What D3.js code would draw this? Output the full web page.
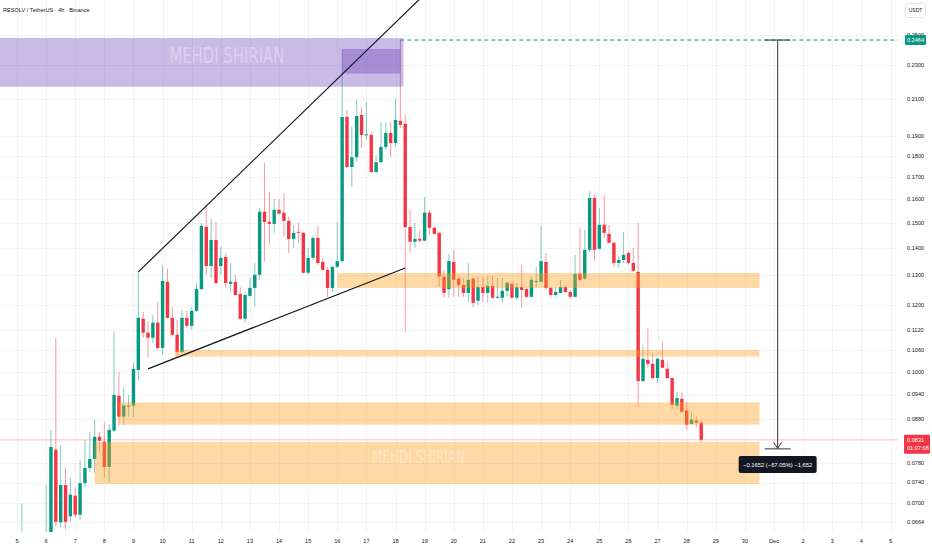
<!DOCTYPE html>
<html>
<head>
<meta charset="utf-8">
<script src="https://cdn.jsdelivr.net/npm/d3@7.9.0/dist/d3.min.js"></script>
<style>
  html, body { margin: 0; padding: 0; background: #fff; }
  svg { display: block; font-family: "Liberation Sans", Arial, sans-serif; }
</style>
</head>
<body>
<svg id="chart" width="932" height="550"></svg>
<script>
// -------------------------
// Data: RESOLV/USDT 4h candles
// first bar Nov 5 04:00 UTC, nulls = bars not shown
// -------------------------
const firstBar = Date.UTC(2025, 10, 5, 4);
const barHours = 4;

const opens = [
  0.0612, null, null, null, null,
  0.0600, 0.0612, 0.0809, 0.0664, 0.0735, 0.0675, 0.0714, 0.0678, 0.0739, 0.0770,
  0.0789, 0.0838, 0.0827, 0.0772, 0.0852, 0.0937, 0.0885, 0.0910, 0.0912, 0.1005,
  0.1155, 0.1112, 0.1097, 0.1143, 0.1067, 0.1277, 0.1158, 0.1106, 0.1055, 0.1158,
  0.1133, 0.1180, 0.1252, 0.1483, 0.1333, 0.1431, 0.1333, 0.1366, 0.1270, 0.1277,
  0.1236, 0.1155, 0.1229, 0.1256, 0.1302, 0.1545, 0.1503, 0.1495, 0.1553, 0.1541,
  0.1507, 0.1435, 0.1463, 0.1459, 0.1309, 0.1363, 0.1439, 0.1348, 0.1319, 0.1256,
  0.1330, 0.1351, 0.1999, 0.1745, 0.1792, 0.2010, 0.1904, 0.1904, 0.1721, 0.1768,
  0.1843, 0.1914, 0.1862, 0.1978, 0.1962, 0.1482, 0.1424, 0.1435, 0.1428, 0.1541,
  0.1479, 0.1459, 0.1295, 0.1252, 0.1348, 0.1288, 0.1266, 0.1239, 0.1288, 0.1213,
  0.1259, 0.1239, 0.1263, 0.1223, 0.1223, 0.1246, 0.1270, 0.1223, 0.1259, 0.1252,
  0.1226, 0.1277, 0.1277, 0.1348, 0.1256, 0.1232, 0.1239, 0.1259, 0.1242, 0.1226,
  0.1305, 0.1288, 0.1393, 0.1604, 0.1397, 0.1491, 0.1455, 0.1420, 0.1344, 0.1355,
  0.1381, 0.1344, 0.1312, 0.0975, 0.1033, 0.1022, 0.0983, 0.1033, 0.1008, 0.0983,
  0.0912, 0.0929, 0.0900, 0.0868, 0.0876, 0.0871
];
const highs = [
  0.0699, null, null, null, null,
  0.0735, 0.0854, 0.1097, 0.0820, 0.0770, 0.0749, 0.0730, 0.0787, 0.0831, 0.0849,
  0.0878, 0.0849, 0.0871, 0.0866, 0.1115, 0.0999, 0.0957, 0.0939, 0.1024, 0.1312,
  0.1177, 0.1146, 0.1168, 0.1209, 0.1336, 0.1323, 0.1193, 0.1152, 0.1183, 0.1180,
  0.1193, 0.1274, 0.1499, 0.1565, 0.1519, 0.1503, 0.1404, 0.1378, 0.1344, 0.1302,
  0.1259, 0.1242, 0.1291, 0.1344, 0.1562, 0.1764, 0.1630, 0.1599, 0.1599, 0.1626,
  0.1523, 0.1491, 0.1499, 0.1463, 0.1401, 0.1443, 0.1487, 0.1363, 0.1330, 0.1333,
  0.1503, 0.2398, 0.2037, 0.1946, 0.2094, 0.2054, 0.2082, 0.1920, 0.1802, 0.1972,
  0.1967, 0.1972, 0.2100, 0.2464, 0.2010, 0.1553, 0.1499, 0.1471, 0.1608, 0.1553,
  0.1483, 0.1463, 0.1319, 0.1378, 0.1393, 0.1295, 0.1291, 0.1344, 0.1291, 0.1295,
  0.1295, 0.1298, 0.1298, 0.1291, 0.1291, 0.1277, 0.1277, 0.1273, 0.1337, 0.1259,
  0.1295, 0.1330, 0.1487, 0.1381, 0.1259, 0.1259, 0.1284, 0.1266, 0.1249, 0.1374,
  0.1479, 0.1471, 0.1634, 0.1619, 0.1562, 0.1617, 0.1491, 0.1424, 0.1370, 0.1463,
  0.1385, 0.1401, 0.1499, 0.1076, 0.1127, 0.1053, 0.1039, 0.1085, 0.1027, 0.0986,
  0.0947, 0.0947, 0.0921, 0.0897, 0.0885, 0.0878
];
const lows = [
  0.0605, null, null, null, null,
  0.0590, 0.0605, 0.0656, 0.0655, 0.0651, 0.0665, 0.0673, 0.0669, 0.0730, 0.0762,
  0.0760, 0.0805, 0.0751, 0.0739, 0.0849, 0.0864, 0.0864, 0.0885, 0.0885, 0.0978,
  0.1097, 0.1039, 0.1082, 0.1061, 0.1047, 0.1155, 0.1100, 0.1044, 0.1052, 0.1127,
  0.1121, 0.1177, 0.1249, 0.1302, 0.1291, 0.1270, 0.1302, 0.1256, 0.1242, 0.1230,
  0.1152, 0.1143, 0.1226, 0.1193, 0.1284, 0.1351, 0.1413, 0.1459, 0.1533, 0.1447,
  0.1381, 0.1401, 0.1420, 0.1305, 0.1302, 0.1355, 0.1337, 0.1316, 0.1226, 0.1242,
  0.1326, 0.1344, 0.1740, 0.1653, 0.1768, 0.1838, 0.1878, 0.1717, 0.1717, 0.1764,
  0.1828, 0.1792, 0.1843, 0.1941, 0.1115, 0.1381, 0.1401, 0.1420, 0.1426, 0.1451,
  0.1451, 0.1259, 0.1223, 0.1223, 0.1226, 0.1226, 0.1226, 0.1209, 0.1193, 0.1199,
  0.1209, 0.1206, 0.1220, 0.1220, 0.1206, 0.1226, 0.1220, 0.1216, 0.1190, 0.1223,
  0.1223, 0.1259, 0.1274, 0.1249, 0.1226, 0.1226, 0.1237, 0.1239, 0.1220, 0.1223,
  0.1280, 0.1284, 0.1385, 0.1351, 0.1395, 0.1439, 0.1418, 0.1330, 0.1326, 0.1344,
  0.1341, 0.1312, 0.0909, 0.0973, 0.1013, 0.0981, 0.0970, 0.1010, 0.0981, 0.0902,
  0.0902, 0.0895, 0.0854, 0.0866, 0.0861, 0.0826
];
const closes = [
  0.0616, null, null, null, null,
  0.0612, 0.0815, 0.0665, 0.0735, 0.0665, 0.0716, 0.0678, 0.0739, 0.0770, 0.0789,
  0.0838, 0.0829, 0.0772, 0.0854, 0.0939, 0.0885, 0.0912, 0.0912, 0.1008, 0.1158,
  0.1112, 0.1097, 0.1143, 0.1067, 0.1280, 0.1158, 0.1106, 0.1055, 0.1158, 0.1133,
  0.1180, 0.1252, 0.1487, 0.1333, 0.1431, 0.1273, 0.1363, 0.1273, 0.1277, 0.1232,
  0.1155, 0.1232, 0.1256, 0.1302, 0.1545, 0.1503, 0.1495, 0.1553, 0.1537, 0.1507,
  0.1435, 0.1459, 0.1459, 0.1309, 0.1363, 0.1439, 0.1344, 0.1319, 0.1256, 0.1330,
  0.1351, 0.1999, 0.1745, 0.1792, 0.2004, 0.1904, 0.1907, 0.1721, 0.1768, 0.1843,
  0.1914, 0.1862, 0.1983, 0.1957, 0.1482, 0.1424, 0.1435, 0.1428, 0.1541, 0.1479,
  0.1455, 0.1295, 0.1239, 0.1351, 0.1284, 0.1266, 0.1239, 0.1284, 0.1206, 0.1259,
  0.1239, 0.1263, 0.1223, 0.1226, 0.1246, 0.1274, 0.1223, 0.1259, 0.1249, 0.1226,
  0.1284, 0.1280, 0.1351, 0.1256, 0.1232, 0.1242, 0.1259, 0.1242, 0.1226, 0.1305,
  0.1284, 0.1393, 0.1604, 0.1393, 0.1491, 0.1459, 0.1420, 0.1344, 0.1355, 0.1374,
  0.1344, 0.1316, 0.0975, 0.1036, 0.1022, 0.0983, 0.1036, 0.1011, 0.0983, 0.0914,
  0.0931, 0.0897, 0.0866, 0.0878, 0.0871, 0.0831
];

// Axis ticks
const priceTicks = [0.25, 0.23, 0.21, 0.19, 0.18, 0.17, 0.16, 0.15, 0.14, 0.13,
  0.12, 0.112, 0.106, 0.1, 0.094, 0.088, 0.078, 0.074, 0.07, 0.0664];
const dayTicks = d3.utcDay.range(Date.UTC(2025, 10, 5), Date.UTC(2025, 11, 6));

// Drawings: [start, end, low, high]
const orangeZones = [
  [Date.UTC(2025, 10, 16, 0), Date.UTC(2025, 10, 30, 12), 0.1256, 0.1308],
  [Date.UTC(2025, 10, 10, 10), Date.UTC(2025, 10, 30, 12), 0.1042, 0.1061],
  [Date.UTC(2025, 10, 8, 12), Date.UTC(2025, 10, 30, 12), 0.0866, 0.0920],
  [Date.UTC(2025, 10, 7, 16), Date.UTC(2025, 10, 30, 12), 0.0737, 0.0826]
];
const purpleZone = [Date.UTC(2025, 9, 30), Date.UTC(2025, 10, 18, 6, 30), 0.2170, 0.2478];
const purpleInner = [Date.UTC(2025, 10, 16, 4), Date.UTC(2025, 10, 18, 4), 0.2250, 0.2405];

// Trend lines: [[time, price], [time, price]]
const upperTrend = [[Date.UTC(2025, 10, 9, 4), 0.1312], [Date.UTC(2025, 10, 18, 20), 0.2755]];
const lowerTrend = [[Date.UTC(2025, 10, 9, 12), 0.1008], [Date.UTC(2025, 10, 18, 8), 0.1326]];

// Watermarks: [text, time, price, width]
const watermarks = [
  ['MEHDI SHIRIAN', Date.UTC(2025, 10, 12, 5), 0.2318, 115],
  ['MEHDI SHIRIAN', Date.UTC(2025, 10, 18, 19), 0.0780, 93]
];

const athPrice = 0.2464;
const lastPrice = 0.0831;
const lastCountdown = '01:07:08';
const measureTime = Date.UTC(2025, 11, 1, 3);
const measureDrop = 0.1652;
const measureLabel = '\u22120.1652 (\u221267.05%) \u22121,652';
const title = 'RESOLV / TetherUS \u00b7 4h \u00b7 Binance';

// -------------------------
// Scales
// -------------------------
const plotRight = 898, plotBottom = 532;
const upColor = '#089981', downColor = '#f23645';

const x = d3.scaleUtc()
  .domain([Date.UTC(2025, 10, 5), Date.UTC(2025, 11, 5)])
  .range([17, 890.5]);
const y = d3.scaleLog()
  .domain([0.0616, 0.25])
  .range([550, 34.7]);

const candles = opens.map((o, i) => o == null ? null : {
  t: new Date(firstBar + i * barHours * 3600e3),
  o, h: highs[i], l: lows[i], c: closes[i]
}).filter(Boolean);

const svg = d3.select('#chart');

svg.append('defs').append('clipPath').attr('id', 'plot')
  .append('rect').attr('x', 0).attr('y', 0).attr('width', plotRight).attr('height', plotBottom);

// grid
const grid = svg.append('g').attr('stroke', '#f2f3f6').attr('stroke-width', 1);
grid.selectAll('.vg').data(dayTicks).join('line')
  .attr('x1', d => Math.round(x(d)) + 0.5).attr('x2', d => Math.round(x(d)) + 0.5)
  .attr('y1', 0).attr('y2', plotBottom);
grid.selectAll('.hg').data(priceTicks).join('line')
  .attr('x1', 0).attr('x2', plotRight)
  .attr('y1', d => Math.round(y(d)) + 0.5).attr('y2', d => Math.round(y(d)) + 0.5);

const plot = svg.append('g').attr('clip-path', 'url(#plot)');

// current price line
plot.append('line')
  .attr('x1', 0).attr('x2', plotRight)
  .attr('y1', y(lastPrice)).attr('y2', y(lastPrice))
  .attr('stroke', downColor).attr('stroke-opacity', 0.3);

// candles
const candleG = plot.append('g');
candleG.selectAll('line').data(candles).join('line')
  .attr('x1', d => x(d.t)).attr('x2', d => x(d.t))
  .attr('y1', d => y(d.h)).attr('y2', d => y(d.l))
  .attr('stroke', d => d.c >= d.o ? upColor : downColor)
  .attr('stroke-opacity', 0.5)
  .attr('stroke-width', 1);
candleG.selectAll('rect').data(candles).join('rect')
  .attr('x', d => x(d.t) - 1.7)
  .attr('width', 3.4)
  .attr('y', d => y(Math.max(d.o, d.c)))
  .attr('height', d => Math.max(1, Math.abs(y(d.o) - y(d.c))))
  .attr('fill', d => d.c >= d.o ? upColor : downColor);

// zones
plot.selectAll('.oz').data(orangeZones).join('rect')
  .attr('x', d => x(d[0])).attr('width', d => x(d[1]) - x(d[0]))
  .attr('y', d => y(d[3])).attr('height', d => y(d[2]) - y(d[3]))
  .attr('fill', 'rgb(255,160,30)').attr('fill-opacity', 0.4);

plot.selectAll('.pz').data([purpleZone, purpleInner]).join('rect')
  .attr('x', d => x(d[0])).attr('width', d => x(d[1]) - x(d[0]))
  .attr('y', d => y(d[3])).attr('height', d => y(d[2]) - y(d[3]))
  .attr('fill', '#673ab7').attr('fill-opacity', 0.35);

// watermarks
plot.selectAll('.wm').data(watermarks).join('text')
  .attr('x', d => x(d[1])).attr('y', d => y(d[2]))
  .attr('text-anchor', 'middle')
  .attr('textLength', d => d[3]).attr('lengthAdjust', 'spacingAndGlyphs')
  .attr('font-family', '"Liberation Sans Narrow", "DejaVu Sans Condensed", sans-serif')
  .attr('font-size', (d, i) => i === 0 ? 22 : 18)
  .attr('fill', '#fff').attr('fill-opacity', 0.35)
  .text(d => d[0]);

// trend lines
const trendLine = d3.line().x(d => x(d[0])).y(d => y(d[1]));
plot.selectAll('.tl').data([upperTrend, lowerTrend]).join('path')
  .attr('d', trendLine)
  .attr('fill', 'none').attr('stroke', '#131722').attr('stroke-width', 1.2);

// ATH dashed line
plot.append('line')
  .attr('x1', x(candles.find(c => c.h === athPrice).t)).attr('x2', plotRight)
  .attr('y1', y(athPrice)).attr('y2', y(athPrice))
  .attr('stroke', upColor).attr('stroke-width', 1).attr('stroke-dasharray', '4,3');

// price range measure
const mx = x(measureTime), my0 = y(athPrice), my1 = y(athPrice - measureDrop);
const measure = svg.append('g').attr('stroke', '#333').attr('stroke-width', 1).attr('fill', 'none');
measure.append('line').attr('x1', mx).attr('x2', mx).attr('y1', my0).attr('y2', my1);
measure.append('line').attr('x1', mx - 13).attr('x2', mx + 13).attr('y1', my0).attr('y2', my0);
measure.append('line').attr('x1', mx - 13).attr('x2', mx + 13).attr('y1', my1 + 0.5).attr('y2', my1 + 0.5);
measure.append('path').attr('d', `M${mx - 4},${my1 - 6}L${mx},${my1}L${mx + 4},${my1 - 6}`);
svg.append('rect')
  .attr('x', mx - 39).attr('y', my1 + 7.5).attr('width', 78).attr('height', 17)
  .attr('rx', 2).attr('fill', '#131722');
svg.append('text')
  .attr('x', mx).attr('y', my1 + 18.3).attr('text-anchor', 'middle')
  .attr('font-size', 5.8).attr('fill', '#fff')
  .text(measureLabel);

// -------------------------
// Axes
// -------------------------
svg.append('g').selectAll('text').data(priceTicks).join('text')
  .attr('x', 907).attr('y', d => y(d)).attr('dy', '0.35em')
  .attr('font-size', 5.6).attr('fill', '#131722')
  .text(d => d3.format('.4f')(d));

svg.append('g').selectAll('text').data(dayTicks).join('text')
  .attr('x', d => x(d)).attr('y', 542.5).attr('text-anchor', 'middle')
  .attr('font-size', 5.6).attr('fill', '#131722')
  .text(d => d.getUTCDate() === 1 ? d3.utcFormat('%b')(d) : d.getUTCDate());

// ATH label
svg.append('rect')
  .attr('x', 905).attr('y', y(athPrice) - 5).attr('width', 21).attr('height', 10)
  .attr('rx', 1).attr('fill', upColor);
svg.append('text')
  .attr('x', 915.5).attr('y', y(athPrice)).attr('dy', '0.35em').attr('text-anchor', 'middle')
  .attr('font-size', 5.6).attr('fill', '#fff').text(athPrice.toFixed(4));

// last price label
const ly = y(lastPrice);
svg.append('rect')
  .attr('x', 904).attr('y', ly - 5).attr('width', 26).attr('height', 19)
  .attr('rx', 1).attr('fill', downColor);
svg.append('text')
  .attr('x', 907).attr('y', ly).attr('dy', '0.35em')
  .attr('font-size', 5.6).attr('fill', '#fff').text(lastPrice.toFixed(4));
svg.append('text')
  .attr('x', 907).attr('y', ly + 8.5).attr('dy', '0.35em')
  .attr('font-size', 5.6).attr('fill', '#fff').text(lastCountdown);

// currency box
svg.append('rect')
  .attr('x', 905.5).attr('y', 3.5).attr('width', 20).attr('height', 14)
  .attr('rx', 2).attr('fill', '#fff').attr('stroke', '#e0e3eb');
svg.append('text')
  .attr('x', 915.5).attr('y', 10.5).attr('dy', '0.35em').attr('text-anchor', 'middle')
  .attr('font-size', 5).attr('fill', '#131722').text('USDT');

// title
svg.append('text')
  .attr('x', 3).attr('y', 10.5).attr('dy', '0.35em')
  .attr('font-size', 5.6).attr('fill', '#131722').text(title);
</script>
</body>
</html>
